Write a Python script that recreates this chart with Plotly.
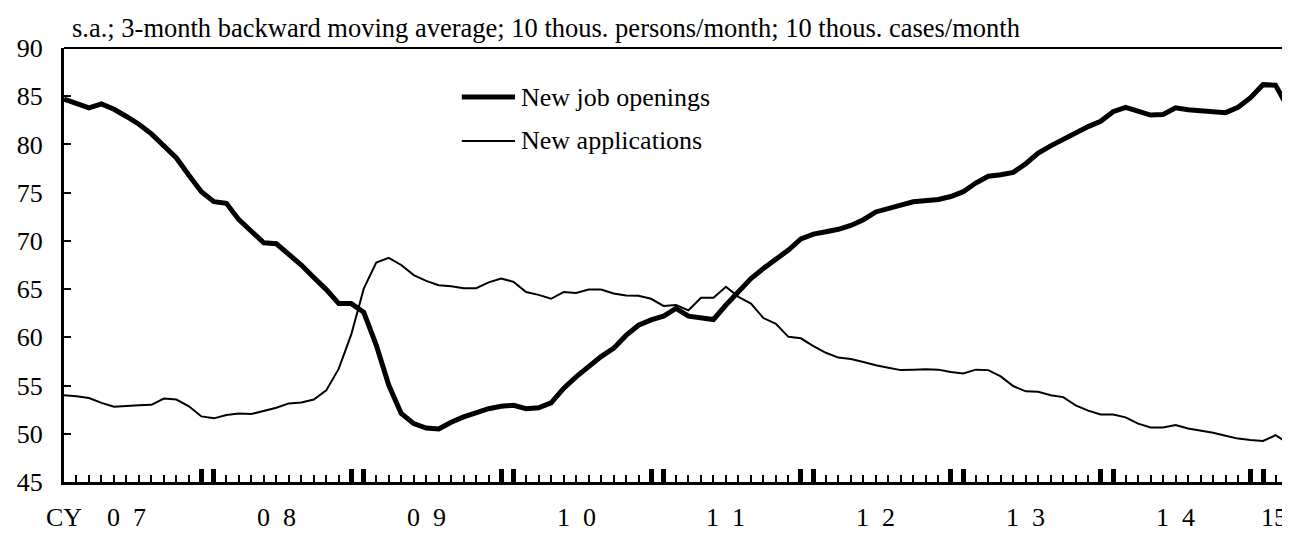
import plotly.graph_objects as go

# monthly data, Jan 2007 (index 0) .. Mar 2015 (index 98)
month_idx = list(range(99))

job_openings = [
    84.7, 84.3, 83.8, 84.2, 83.65, 82.9, 82.1, 81.1, 79.85, 78.6,
    76.8, 75.1, 74.07, 73.9, 72.2, 70.95, 69.8, 69.7, 68.6, 67.5,
    66.2, 64.95, 63.5, 63.5, 62.6, 59.2, 55.05, 52.1, 51.05, 50.6,
    50.5, 51.2, 51.75, 52.2, 52.6, 52.85, 52.95, 52.6, 52.7, 53.2,
    54.7, 55.9, 56.95, 58.0, 58.85, 60.2, 61.25, 61.8, 62.2, 63.0,
    62.2, 62.05, 61.85, 63.35, 64.7, 66.1, 67.15, 68.1, 69.05, 70.2,
    70.7, 70.95, 71.2, 71.6, 72.2, 73.0, 73.4, 73.7, 74.05, 74.2,
    74.3, 74.6, 75.1, 76.0, 76.7, 76.85, 77.1, 78.0, 79.1, 79.85,
    80.55, 81.25, 81.85, 82.4, 83.4, 83.85, 83.4, 83.05, 83.1, 83.8,
    83.6, 83.5, 83.45, 83.3, 83.85, 84.85, 86.2, 86.15, 83.8,
]

new_applications = [
    54.0, 53.9, 53.7, 53.2, 52.8, 52.9, 52.95, 53.0, 53.65, 53.55,
    52.85, 51.8, 51.6, 51.95, 52.1, 52.05, 52.35, 52.7, 53.15, 53.25,
    53.55, 54.5, 56.75, 60.3, 65.05, 67.75, 68.25, 67.5, 66.45, 65.85,
    65.4, 65.3, 65.1, 65.1, 65.7, 66.1, 65.75, 64.7, 64.4, 64.0,
    64.7, 64.6, 64.95, 64.95, 64.55, 64.35, 64.3, 64.0, 63.25, 63.35,
    62.8, 64.1, 64.1, 65.25, 64.2, 63.5, 62.0, 61.4, 60.05, 59.9,
    59.1, 58.4, 57.9, 57.75, 57.45, 57.1, 56.85, 56.6, 56.65, 56.7,
    56.65, 56.4, 56.25, 56.65, 56.6, 55.95, 54.95, 54.4, 54.35, 54.0,
    53.8, 52.95, 52.4, 52.0, 52.0, 51.7, 51.05, 50.65, 50.65, 50.9,
    50.55, 50.35, 50.1, 49.8, 49.5, 49.35, 49.25, 49.85, 49.05,
]

year_labels = ["0\u00a0\u00a07", "0\u00a0\u00a08", "0\u00a0\u00a09", "1\u00a0\u00a00",
               "1\u00a0\u00a01", "1\u00a0\u00a02", "1\u00a0\u00a03", "1\u00a0\u00a04"]
year_label_pos = [5, 17, 29, 41, 53, 65, 77, 89]

# thick ticks on Dec and Jan of each year
year_ticks = [0] + [m for y in range(1, 9) for m in (12 * y - 1, 12 * y)]

FONT = "Liberation Serif"
LABEL_Y = -0.081

fig = go.Figure()
fig.add_trace(go.Scatter(x=month_idx, y=job_openings, mode="lines",
                         line=dict(color="black", width=5), name="New job openings"))
fig.add_trace(go.Scatter(x=month_idx, y=new_applications, mode="lines",
                         line=dict(color="black", width=2), name="New applications"))

# page body has an 8px margin, so the figure is sized to fit inside the window
fig.update_layout(
    width=1282, height=525,
    margin=dict(l=56, r=2, t=40, b=51),
    paper_bgcolor="white", plot_bgcolor="white",
    showlegend=False,
    font=dict(family=FONT, size=26, color="black"),
)

fig.update_xaxes(
    range=[0, 98], showgrid=False, zeroline=False,
    showline=True, linecolor="black", linewidth=3,
    tickmode="array", tickvals=year_ticks, showticklabels=False,
    ticks="inside", ticklen=13, tickwidth=5, tickcolor="black",
    minor=dict(ticks="inside", tickmode="linear", tick0=0, dtick=1,
               ticklen=7, tickwidth=2, tickcolor="black", showgrid=False),
)
fig.update_yaxes(
    range=[45, 90], tick0=45, dtick=5, showgrid=False, zeroline=False,
    showline=True, linecolor="black", linewidth=3,
    ticks="inside", ticklen=7, tickwidth=2, tickcolor="black",
    tickfont=dict(family=FONT, size=26), ticklabelstandoff=13,
)

# frame top / right
fig.add_shape(type="line", xref="paper", yref="paper", x0=0, x1=1, y0=1, y1=1,
              line=dict(color="black", width=2))
fig.add_shape(type="line", xref="paper", yref="paper", x0=1, x1=1, y0=0, y1=1,
              line=dict(color="black", width=2))

# legend
for yy, w, txt in [(0.887, 5, "New job openings"), (0.786, 2, "New applications")]:
    fig.add_shape(type="line", xref="paper", yref="paper", x0=0.325, x1=0.3685,
                  y0=yy, y1=yy, line=dict(color="black", width=w))
    fig.add_annotation(xref="paper", yref="paper", x=0.3717, y=yy, text=txt,
                       showarrow=False, xanchor="left", yanchor="middle",
                       font=dict(family=FONT, size=26))

fig.add_annotation(xref="paper", yref="paper", x=0.005, y=1.046, showarrow=False,
                   text="s.a.; 3-month backward moving average; 10 thous. persons/month; 10 thous. cases/month",
                   xanchor="left", yanchor="middle", font=dict(family=FONT, size=26.5))

# x labels
fig.add_annotation(xref="x", yref="paper", x=0, y=LABEL_Y, text="CY", showarrow=False,
                   xanchor="center", yanchor="middle", borderpad=0,
                   font=dict(family=FONT, size=26))
for pos, lab in zip(year_label_pos, year_labels):
    fig.add_annotation(xref="x", yref="paper", x=pos, y=LABEL_Y, text=lab, showarrow=False,
                       xanchor="center", yanchor="middle", borderpad=0,
                       font=dict(family=FONT, size=26))
fig.add_annotation(xref="x", yref="paper", x=98, y=LABEL_Y, text="15", showarrow=False,
                   xanchor="right", yanchor="middle", borderpad=0,
                   font=dict(family=FONT, size=26))

fig.write_html("out.html")
